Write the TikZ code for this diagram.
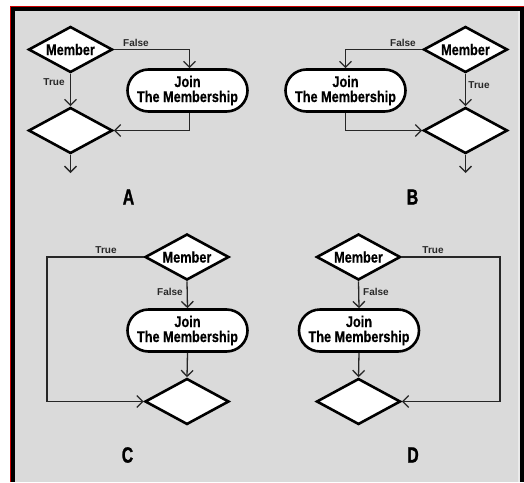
\documentclass[tikz,border=0pt]{standalone}
\usepackage{fontspec}
\setmainfont{Liberation Sans}
\newfontfamily\condfont[FakeStretch=0.82,FakeBold=0.6]{Liberation Sans}
\newfontfamily\letterfont[FakeStretch=0.72,FakeBold=1.2]{Liberation Sans}
\usetikzlibrary{shapes.geometric,arrows.meta}
\definecolor{bgfill}{RGB}{218,218,218}
\definecolor{bgstrip}{RGB}{234,234,234}
\definecolor{framered}{RGB}{205,0,0}
\definecolor{lblgray}{RGB}{40,40,40}
\begin{document}
\begin{tikzpicture}[x=1pt,y=-1pt,
  dec/.style={diamond, draw=black, fill=white, line width=2.6pt,
    minimum width=84pt, minimum height=46pt, inner sep=0pt, shape aspect=1.8,
    font=\condfont\bfseries\fontsize{15.5}{15}\selectfont},
  proc/.style={rectangle, rounded corners=21pt, draw=black, fill=white,
    line width=2.6pt, minimum width=120pt, minimum height=42pt, inner sep=0pt,
    align=center, font=\condfont\bfseries\fontsize{15.5}{15}\selectfont},
  conn/.style={line width=1.3pt, draw=black!85},
  arr/.style={conn, -{Straight Barb[length=6pt,width=12pt]}},
  lbl/.style={font=\bfseries\fontsize{10}{12}\selectfont, text=lblgray, inner sep=0pt},
  big/.style={font=\letterfont\bfseries\fontsize{22}{24}\selectfont, inner sep=0pt}]
\useasboundingbox (0,0) rectangle (524,482);
% background and frame
\fill[white] (0,0) rectangle (524,482);
\fill[bgfill] (14,10) rectangle (520,482);
\fill[bgstrip] (517.5,10) rectangle (520,482);
\fill[black] (11,7) rectangle (524,10.5);
\fill[black] (11,7) rectangle (14.5,482);
\fill[black] (520,7) rectangle (524,482);
\draw[framered, line width=1.2pt] (10.5,482) -- (10.5,6.5) -- (524,6.5);

% ---------- A ----------
\node[dec] (am) at (70.5,49.5) {Member};
\node[dec] (ad) at (70.5,130.5) {};
\node[proc] (aj) at (187.5,90.5) {Join\\The Membership};
\coordinate (aout) at (70.5,173);
\draw[arr] (am.east) -| ([xshift=2pt]aj.north);
\draw[arr] (am.south) -- (ad.north);
\draw[arr] ([xshift=2pt]aj.south) |- (ad.east);
\draw[arr] (ad.south) -- (aout);
\node[lbl] (afalse) at (136,43) {False};
\node[lbl] (atrue) at (54,82) {True};
\node[big] (alab) at (128.5,197) {A};

% ---------- B ----------
\node[dec] (bm) at (465.5,49.5) {Member};
\node[dec] (bd) at (465.5,130.5) {};
\node[proc] (bj) at (345.5,90.5) {Join\\The Membership};
\coordinate (bout) at (465.5,173);
\draw[arr] (bm.west) -| (bj.north);
\draw[arr] (bm.south) -- (bd.north);
\draw[arr] (bj.south) |- (bd.west);
\draw[arr] (bd.south) -- (bout);
\node[lbl] (bfalse) at (403,43) {False};
\node[lbl] (btrue) at (479,85) {True};
\node[big] (blab) at (412.5,197) {B};

% ---------- C ----------
\node[dec] (cm) at (187,257) {Member};
\node[proc] (cj) at (187.5,330.5) {Join\\The Membership};
\node[dec] (cd) at (187,401.5) {};
\coordinate (cloop) at (47,257);
\draw[arr] (cm.west) -- (cloop) |- (cd.west);
\draw[arr] (cm.south) -- (cj.north);
\draw[arr] (cj.south) -- (cd.north);
\node[lbl] (ctrue) at (106,250) {True};
\node[lbl] (cfalse) at (170,292) {False};
\node[big] (clab) at (127.5,455) {C};

% ---------- D ----------
\node[dec] (dm) at (358.5,257) {Member};
\node[proc] (dj) at (359,330.5) {Join\\The Membership};
\node[dec] (dd) at (358.5,401.5) {};
\coordinate (dloop) at (500,257);
\draw[arr] (dm.east) -- (dloop) |- (dd.east);
\draw[arr] (dm.south) -- (dj.north);
\draw[arr] (dj.south) -- (dd.north);
\node[lbl] (dtrue) at (433,250) {True};
\node[lbl] (dfalse) at (376,292) {False};
\node[big] (dlab) at (413,455) {D};
\end{tikzpicture}
\end{document}
